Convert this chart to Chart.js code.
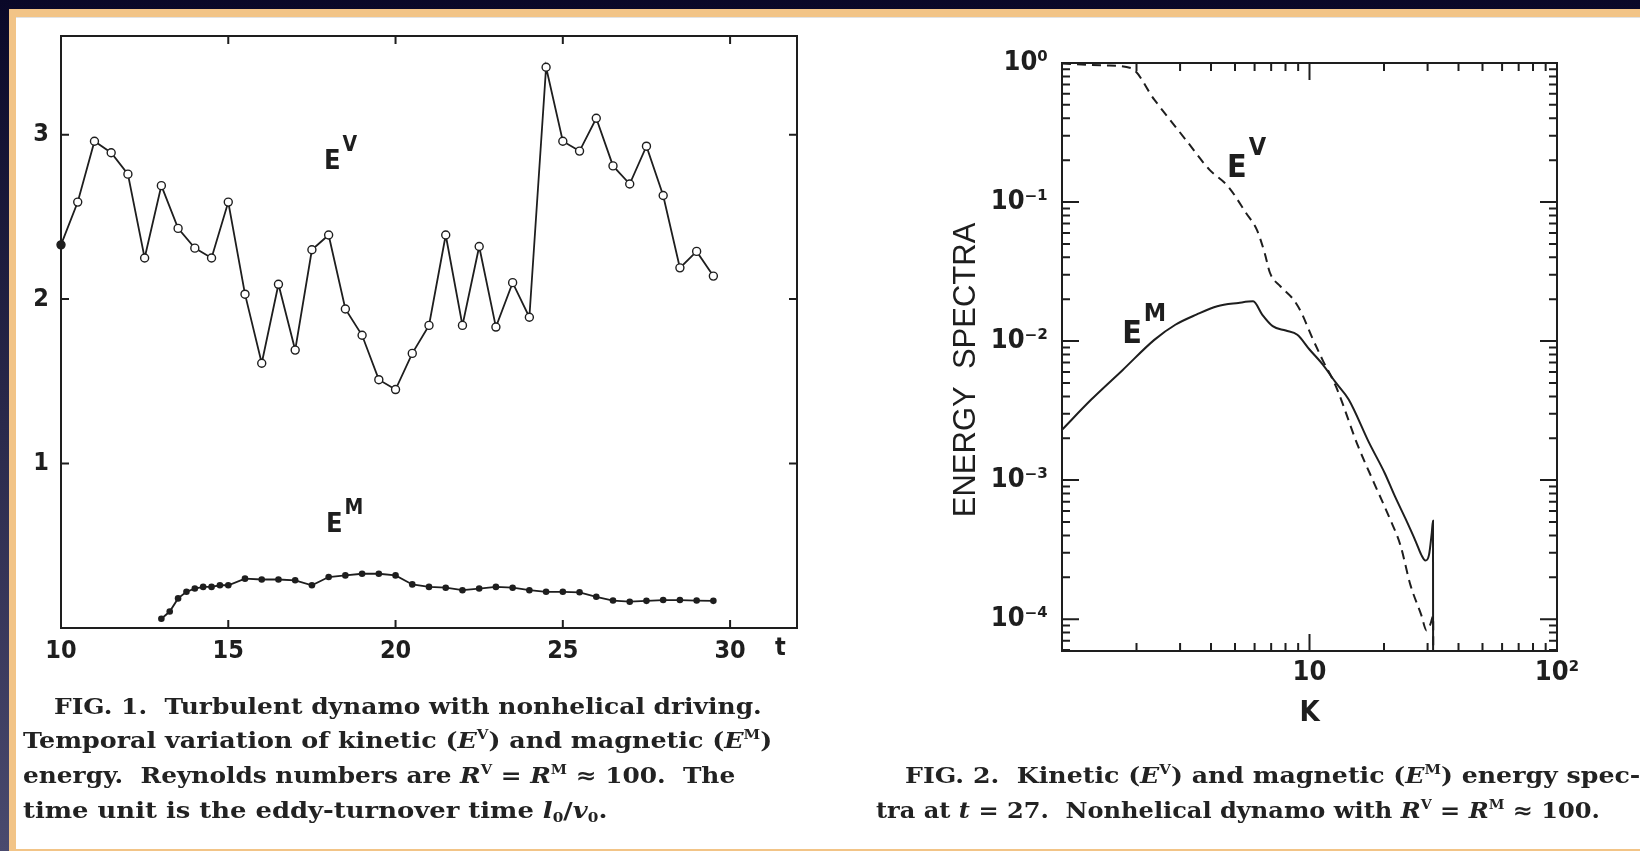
<!DOCTYPE html>
<html>
<head>
<meta charset="utf-8">
<script src="https://cdn.jsdelivr.net/npm/chart.js@4.4.0/dist/chart.umd.min.js"></script>
<style>
  html, body { margin: 0; padding: 0; }
  body {
    width: 1640px; height: 851px; position: relative; overflow: hidden;
    background: linear-gradient(#0a0828, #4a4a6e);
  }
  #edge { position: absolute; left: 9px; top: 9px; right: 0; bottom: 0; background: #f2c487; }
  #paper { position: absolute; left: 16px; top: 17px; right: 0; bottom: 2px; background: #fff; border-top: 1px solid #e2e2e2; }
  canvas { position: absolute; filter: blur(0.35px); }
  #fig1 { left: 0; top: 20px; }
  #fig2 { left: 880px; top: 20px; }
  .cap {
    position: absolute; white-space: pre; color: #222;
    font-family: 'DejaVu Serif', 'Liberation Serif', serif; font-weight: bold; font-size: 22px; line-height: 24px;
    transform-origin: 0 50%; filter: blur(0.35px);
  }
  .cap i { font-style: italic; }
  .cap sup { font-size: 13px; vertical-align: 9px; line-height: 0; }
  .cap sub { font-size: 13px; vertical-align: -4px; line-height: 0; }
</style>
</head>
<body>
<div id="edge"></div>
<div id="paper"></div>
<canvas id="fig1" width="820" height="660"></canvas>
<canvas id="fig2" width="760" height="720"></canvas>

<div class="cap" data-w="708" style="left:54px; top:694px;">FIG. 1.  Turbulent dynamo with nonhelical driving.</div>
<div class="cap" data-w="749" style="left:23px; top:728px;">Temporal variation of kinetic (<i>E</i><sup>V</sup>) and magnetic (<i>E</i><sup>M</sup>)</div>
<div class="cap" data-w="712" style="left:23px; top:763px;">energy.  Reynolds numbers are <i>R</i><sup>V</sup> = <i>R</i><sup>M</sup> ≈ 100.  The</div>
<div class="cap" data-w="584" style="left:23px; top:798px;">time unit is the eddy-turnover time <i>l</i><sub>0</sub>/<i>v</i><sub>0</sub>.</div>
<div class="cap" data-w="735" style="left:905px; top:763px;">FIG. 2.  Kinetic (<i>E</i><sup>V</sup>) and magnetic (<i>E</i><sup>M</sup>) energy spec-</div>
<div class="cap" data-w="724" style="left:876px; top:798px;">tra at <i>t</i> = 27.  Nonhelical dynamo with <i>R</i><sup>V</sup> = <i>R</i><sup>M</sup> ≈ 100.</div>

<script>
// FIG. 1 - kinetic and magnetic energy vs time
var tKin = [10, 10.5, 11, 11.5, 12, 12.5, 13, 13.5, 14, 14.5, 15, 15.5, 16, 16.5, 17, 17.5, 18, 18.5, 19, 19.5,
            20, 20.5, 21, 21.5, 22, 22.5, 23, 23.5, 24, 24.5, 25, 25.5, 26, 26.5, 27, 27.5, 28, 28.5, 29, 29.5];
var eKin = [2.33, 2.59, 2.96, 2.89, 2.76, 2.25, 2.69, 2.43, 2.31, 2.25, 2.59, 2.03, 1.61, 2.09, 1.69, 2.30, 2.39, 1.94, 1.78, 1.51,
            1.45, 1.67, 1.84, 2.39, 1.84, 2.32, 1.83, 2.10, 1.89, 3.41, 2.96, 2.90, 3.10, 2.81, 2.70, 2.93, 2.63, 2.19, 2.29, 2.14];
var tMag = [13, 13.25, 13.5, 13.75, 14, 14.25, 14.5, 14.75, 15, 15.5, 16, 16.5, 17, 17.5, 18, 18.5, 19, 19.5,
            20, 20.5, 21, 21.5, 22, 22.5, 23, 23.5, 24, 24.5, 25, 25.5, 26, 26.5, 27, 27.5, 28, 28.5, 29, 29.5];
var eMag = [0.056, 0.10, 0.18, 0.22, 0.24, 0.25, 0.25, 0.26, 0.26, 0.30, 0.295, 0.295, 0.29, 0.26, 0.31, 0.32, 0.33, 0.33,
            0.32, 0.265, 0.25, 0.245, 0.23, 0.24, 0.25, 0.245, 0.23, 0.22, 0.22, 0.217, 0.19, 0.167, 0.16, 0.165, 0.17, 0.17, 0.167, 0.165];
var tTicks = [10, 15, 20, 25, 30];
var eTicks = [1, 2, 3];

// FIG. 2 - energy spectra at t = 27
var kKin = [1, 1.5, 1.9, 2.36, 3.16, 3.94, 4.68, 5.55, 6.13, 6.59, 6.92, 7.64, 8.63, 9.29, 10.2, 11.3, 12.8,
            15.7, 18.2, 21.1, 23.3, 25.6, 28.3, 29.7, 30.8, 31.6, 31.65];
var sKin = [0.99, 0.96, 0.92, 0.545, 0.281, 0.171, 0.130, 0.083, 0.063, 0.043, 0.031, 0.0247, 0.0198, 0.0159, 0.0108, 0.0073, 0.0047,
            0.00176, 0.00096, 0.00053, 0.00034, 0.000175, 0.000107, 0.000083, 0.000092, 0.000105, 0.00001];
var kMag = [1, 1.31, 1.76, 2.36, 2.87, 3.49, 4.24, 5.16, 5.92, 6.44, 7.1, 8.02, 8.93, 10.0, 11.3, 12.8, 14.4,
            17.4, 20.1, 22.1, 24.4, 26.9, 28.3, 29.4, 30.4, 31.2, 31.55, 31.6];
var sMag = [0.0023, 0.00378, 0.0062, 0.0102, 0.0131, 0.0155, 0.0178, 0.0188, 0.0193, 0.0155, 0.0128, 0.0119, 0.0111, 0.0087, 0.0068, 0.0050, 0.0038,
            0.00186, 0.00113, 0.00077, 0.00053, 0.00036, 0.00029, 0.000264, 0.00029, 0.00042, 0.00051, 0.00001];
var kTicks = [1, 10, 100];
var sTicks = [1e-4, 1e-3, 1e-2, 1e-1, 1];
var kLabels = { 10: '10', 100: '10²' };
var sLabels = ['10⁻⁴', '10⁻³', '10⁻²', '10⁻¹', '10⁰'];

var INK = '#1e1e1e';
var NARROW = "'Liberation Sans Narrow', 'DejaVu Sans Condensed', 'Roboto Condensed', sans-serif";

function pairs(xs, ys) {
    return xs.map(function(x, i) { return { x: x, y: ys[i] }; });
}

function logMinor(lo, hi) {
    var out = [];
    for (var d = lo; d < hi; d *= 10) {
        for (var m = 2; m <= 9; m++) out.push(m * d);
    }
    return out;
}

// frame + inward tick marks on all four sides
var boxTicks = {
    id: 'boxTicks',
    afterDatasetsDraw: function(chart, args, o) {
        var ctx = chart.ctx, a = chart.chartArea, sx = chart.scales.x, sy = chart.scales.y;
        ctx.save();
        ctx.strokeStyle = INK;
        ctx.lineWidth = o.width;
        ctx.strokeRect(a.left, a.top, a.right - a.left, a.bottom - a.top);
        ctx.beginPath();
        function xMarks(vals, len) {
            vals.forEach(function(v) {
                var px = sx.getPixelForValue(v);
                if (px < a.left + 1 || px > a.right - 1) return;
                ctx.moveTo(px, a.bottom); ctx.lineTo(px, a.bottom - len);
                ctx.moveTo(px, a.top); ctx.lineTo(px, a.top + len);
            });
        }
        function yMarks(vals, len) {
            vals.forEach(function(v) {
                var py = sy.getPixelForValue(v);
                if (py < a.top + 1 || py > a.bottom - 1) return;
                ctx.moveTo(a.left, py); ctx.lineTo(a.left + len, py);
                ctx.moveTo(a.right, py); ctx.lineTo(a.right - len, py);
            });
        }
        xMarks(o.xMajor, o.majorLen);
        yMarks(o.yMajor, o.majorLen);
        if (o.xMinor) xMarks(o.xMinor, o.minorLen);
        if (o.yMinor) yMarks(o.yMinor, o.minorLen);
        ctx.stroke();

        // curve names with superscripts, placed in data units
        ctx.fillStyle = INK;
        ctx.textBaseline = 'alphabetic';
        ctx.textAlign = 'left';
        (o.names || []).forEach(function(n) {
            var px = sx.getPixelForValue(n.x), py = sy.getPixelForValue(n.y);
            ctx.font = '600 ' + n.size + 'px ' + NARROW;
            ctx.fillText('E', px, py);
            var w = ctx.measureText('E').width;
            ctx.font = '600 ' + Math.round(n.size * 0.78) + 'px ' + NARROW;
            ctx.fillText(n.sup, px + w + 2, py - n.size * 0.68);
        });
        if (o.extra) {
            ctx.font = '600 ' + o.extra.size + 'px ' + NARROW;
            ctx.textAlign = 'center';
            ctx.textBaseline = 'middle';
            ctx.fillText(o.extra.text, sx.getPixelForValue(o.extra.x), a.bottom + o.extra.dy);
        }
        ctx.restore();
    }
};

function fixWidth(w) { return function(s) { s.width = w; s.paddingTop = 0; s.paddingBottom = 0; }; }
function fixHeight(h) { return function(s) { s.height = h; s.paddingLeft = 0; s.paddingRight = 0; }; }

new Chart(document.getElementById('fig1'), {
    type: 'line',
    data: {
        datasets: [
            {
                label: 'E^V',
                data: pairs(tKin, eKin),
                borderColor: INK,
                borderWidth: 1.8,
                pointRadius: 4,
                pointBorderWidth: 1.4,
                pointBorderColor: INK,
                pointBackgroundColor: eKin.map(function(v, i) { return i === 0 ? INK : '#fff'; }),
                tension: 0,
                clip: false
            },
            {
                label: 'E^M',
                data: pairs(tMag, eMag),
                borderColor: INK,
                borderWidth: 1.8,
                pointRadius: 3.3,
                pointBorderWidth: 0,
                pointBackgroundColor: INK,
                tension: 0,
                clip: false
            }
        ]
    },
    options: {
        responsive: false,
        animation: false,
        events: [],
        layout: { padding: { left: 0, top: 16, right: 23, bottom: 0 } },
        plugins: {
            legend: { display: false },
            tooltip: { enabled: false },
            boxTicks: {
                width: 2, majorLen: 8,
                xMajor: tTicks, yMajor: eTicks,
                names: [
                    { x: 17.86, y: 2.79, sup: 'V', size: 27 },
                    { x: 17.92, y: 0.583, sup: 'M', size: 27 }
                ],
                extra: { text: 't', x: 31.5, dy: 20, size: 25 }
            }
        },
        scales: {
            x: {
                type: 'linear', min: 10, max: 32,
                afterFit: fixHeight(52),
                afterBuildTicks: function(s) { s.ticks = tTicks.map(function(v) { return { value: v }; }); },
                grid: { display: false, drawTicks: false },
                border: { display: false },
                ticks: { autoSkip: false, maxRotation: 0, padding: 8, color: INK, font: { family: NARROW, size: 25, weight: 600 } }
            },
            y: {
                type: 'linear', min: 0, max: 3.6,
                afterFit: fixWidth(61),
                afterBuildTicks: function(s) { s.ticks = eTicks.map(function(v) { return { value: v }; }); },
                grid: { display: false, drawTicks: false },
                border: { display: false },
                ticks: { autoSkip: false, padding: 12, color: INK, font: { family: NARROW, size: 25, weight: 600 } }
            }
        }
    },
    plugins: [boxTicks]
});

new Chart(document.getElementById('fig2'), {
    type: 'line',
    data: {
        datasets: [
            {
                label: 'E^V',
                data: pairs(kKin, sKin),
                borderColor: INK,
                borderWidth: 2,
                borderDash: [9, 6],
                pointRadius: 0,
                cubicInterpolationMode: 'monotone',
                clip: { left: 4, top: 4, right: 4, bottom: 0 }
            },
            {
                label: 'E^M',
                data: pairs(kMag, sMag),
                borderColor: INK,
                borderWidth: 2,
                pointRadius: 0,
                cubicInterpolationMode: 'monotone',
                clip: { left: 4, top: 4, right: 4, bottom: 0 }
            }
        ]
    },
    options: {
        responsive: false,
        animation: false,
        events: [],
        layout: { padding: { left: 0, top: 43, right: 83, bottom: 0 } },
        plugins: {
            legend: { display: false },
            tooltip: { enabled: false },
            boxTicks: {
                width: 2, majorLen: 17, minorLen: 8,
                xMajor: kTicks, yMajor: sTicks,
                xMinor: logMinor(1, 100), yMinor: logMinor(1e-5, 1),
                names: [
                    { x: 4.64, y: 0.151, sup: 'V', size: 32 },
                    { x: 1.75, y: 0.00968, sup: 'M', size: 32 }
                ]
            }
        },
        scales: {
            x: {
                type: 'logarithmic', min: 1, max: 100,
                afterFit: fixHeight(89),
                afterBuildTicks: function(s) { s.ticks = kTicks.map(function(v) { return { value: v }; }); },
                grid: { display: false, drawTicks: false },
                border: { display: false },
                ticks: {
                    autoSkip: false, maxRotation: 0, padding: 6, color: INK, font: { family: NARROW, size: 27, weight: 600 },
                    callback: function(v) { return kLabels[v] || ''; }
                },
                title: { display: true, text: 'K', color: INK, font: { family: NARROW, size: 29, weight: 600 }, padding: { bottom: 9 } }
            },
            y: {
                type: 'logarithmic', min: 5.9e-5, max: 1,
                afterFit: fixWidth(182),
                afterBuildTicks: function(s) { s.ticks = sTicks.map(function(v) { return { value: v }; }); },
                grid: { display: false, drawTicks: false },
                border: { display: false },
                ticks: {
                    autoSkip: false, padding: 14, color: INK, font: { family: NARROW, size: 27, weight: 600 },
                    callback: function(v) { var i = sTicks.indexOf(v); return i < 0 ? '' : sLabels[i]; }
                },
                title: {
                    display: true, text: 'ENERGY  SPECTRA   ', color: INK,
                    font: { family: "'Liberation Sans', Arial, sans-serif", size: 31 }, padding: { top: 68 }
                }
            }
        }
    },
    plugins: [boxTicks]
});

// stretch each caption line to the width it has in the scanned page
document.querySelectorAll('.cap').forEach(function(el) {
    var k = parseFloat(el.getAttribute('data-w')) / el.scrollWidth;
    el.style.transform = 'scaleX(' + k.toFixed(3) + ')';
});
</script>
</body>
</html>
